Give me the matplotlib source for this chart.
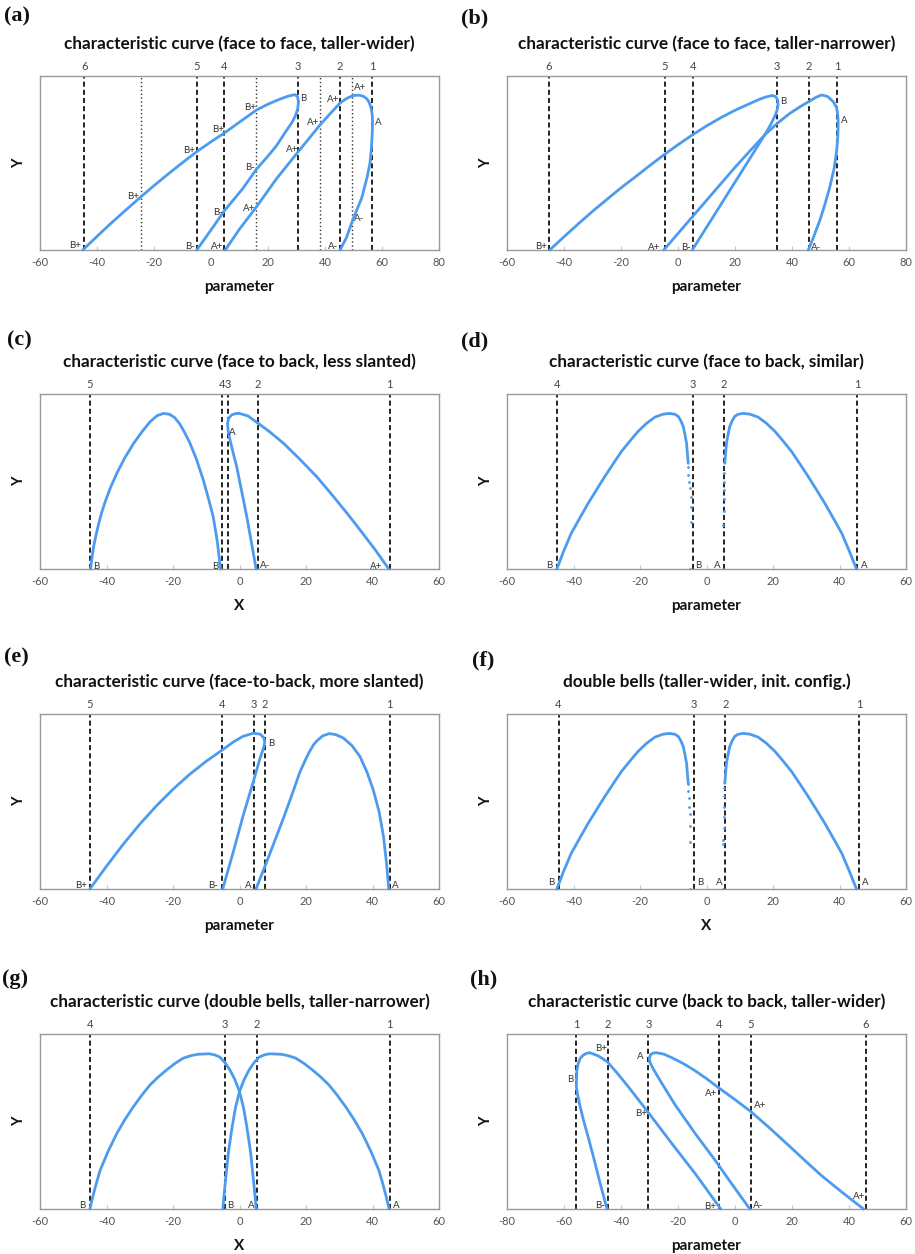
import matplotlib
matplotlib.use("Agg")
import matplotlib.pyplot as plt
from matplotlib.transforms import blended_transform_factory

plt.rcParams["axes.unicode_minus"] = False

# ---------------- data ----------------
# (a) face to face, taller-wider
a_title = "characteristic curve (face to face, taller-wider)"
a_xlabel = "parameter"
a_xlim = (-60, 80)
a_dash_x = [56.6, 45.3, 30.5, 4.7, -5.0, -44.5]
a_dash_lbl = ["1", "2", "3", "4", "5", "6"]
a_dot_x = [-24.7, 15.9, 38.4, 49.6]
a_c1_x = [-45, -40, -35, -30, -25, -20, -15, -10, -5, 0, 5, 10, 16, 20, 24, 27, 29.5,
          30.4, 30.7, 30.4, 29.6, 28.3, 26, 23, 20, 16, 11, 6.7, 4.7, 0, -5]
a_c1_y = [0, 0.078, 0.155, 0.228, 0.30, 0.37, 0.437, 0.502, 0.565, 0.622, 0.676, 0.735, 0.805, 0.838, 0.866, 0.884, 0.893,
          0.88, 0.85, 0.81, 0.77, 0.73, 0.675, 0.60, 0.54, 0.465, 0.35, 0.265, 0.226, 0.115, 0]
a_c2_x = [5, 10, 16, 23, 30.6, 34.5, 38.2, 42, 45.3, 47.3, 49, 50.2, 51.5, 52.8, 53.8, 54.8, 55.6, 56.2, 56.55,
          56.7, 56.6, 56.3, 55.8, 54.8, 52.9, 49.9, 47.5, 45.3]
a_c2_y = [0, 0.12, 0.249, 0.41, 0.565, 0.643, 0.718, 0.787, 0.845, 0.868, 0.882, 0.888, 0.89, 0.887, 0.88, 0.867,
          0.845, 0.815, 0.78, 0.74, 0.68, 0.59, 0.50, 0.42, 0.30, 0.18, 0.07, 0]
a_lbl = ["B+", "B+", "B+", "B+", "B+", "B", "B-", "B-", "B-", "A+", "A+", "A+", "A+", "A+", "A+", "A", "A-", "A-"]
a_lbl_x = [-47.5, -27.5, -7.6, 2.4, 13.6, 32.4, 13.8, 2.4, -7.3, 2.2, 13.4, 28.4, 35.8, 42.9, 52.3, 58.8, 51.9, 42.7]
a_lbl_y = [0.023, 0.31, 0.571, 0.693, 0.818, 0.872, 0.475, 0.215, 0.019, 0.019, 0.239, 0.58, 0.732, 0.866, 0.933,
           0.734, 0.182, 0.019]

# (b) face to face, taller-narrower
b_title = "characteristic curve (face to face, taller-narrower)"
b_xlabel = "parameter"
b_xlim = (-60, 80)
b_dash_x = [55.9, 46.0, 34.6, 5.3, -4.6, -45.3]
b_dash_lbl = ["1", "2", "3", "4", "5", "6"]
b_c1_x = [-45, -40, -35, -30, -25, -20, -15, -10, -5, 0, 5, 10, 15, 20, 25, 28, 30.5, 33, 34.3, 35, 35.1,
          34.7, 34, 32.5, 30.4, 25, 20, 15, 10, 5]
b_c1_y = [0, 0.076, 0.15, 0.222, 0.29, 0.357, 0.42, 0.484, 0.546, 0.605, 0.661, 0.713, 0.76, 0.803, 0.84, 0.862,
          0.878, 0.888, 0.882, 0.86, 0.83, 0.80, 0.77, 0.72, 0.661, 0.52, 0.39, 0.26, 0.13, 0]
b_c2_x = [-5, 0, 5, 10, 15, 20, 25, 30.4, 35, 39.3, 43, 46.1, 48.5, 50.4, 52.5, 54.5, 55.6, 56.0, 56.2, 56.1,
          55.7, 54.8, 53.3, 51.6, 49.8, 47.7, 45.7]
b_c2_y = [0, 0.095, 0.19, 0.285, 0.38, 0.475, 0.565, 0.661, 0.73, 0.786, 0.825, 0.855, 0.878, 0.891, 0.882, 0.852,
          0.82, 0.786, 0.737, 0.66, 0.575, 0.47, 0.364, 0.265, 0.172, 0.08, 0]
b_lbl = ["B+", "A+", "B-", "B", "A", "A-"]
b_lbl_x = [-48.2, -8.2, 2.8, 37.0, 58.5, 48.6]
b_lbl_y = [0.019, 0.015, 0.015, 0.856, 0.743, 0.015]

# (c) face to back, less slanted
c_title = "characteristic curve (face to back, less slanted)"
c_xlabel = "X"
c_xlim = (-60, 60)
c_dash_x = [45.2, 5.5, -3.5, -5.3, -45.0]
c_dash_lbl = ["1", "2", "3", "4", "5"]
c_c1_x = [-44.8, -44.4, -43.9, -43.2, -42.4, -41.5, -40.3, -38.8, -36.9, -34.5, -31.8, -29.3, -26.8, -24.8, -22.9,
          -21, -19.5, -18, -16.5, -14.9, -13, -10.9, -9.3, -7.9, -6.7, -5.7]
c_c1_y = [0, 0.06, 0.125, 0.19, 0.255, 0.32, 0.39, 0.465, 0.547, 0.635, 0.719, 0.785, 0.843, 0.876, 0.889,
          0.884, 0.865, 0.83, 0.78, 0.719, 0.63, 0.509, 0.40, 0.298, 0.16, 0]
c_c2_x = [5, 3.6, 2.2, 0.7, -0.85, -2.0, -2.85, -3.4, -3.6, -3.3, -2.4, -1.2, 0, 2.5, 5.5, 9, 13.2, 18, 23.2, 28,
          33.2, 37, 41, 44.9]
c_c2_y = [0, 0.15, 0.298, 0.44, 0.585, 0.67, 0.738, 0.79, 0.83, 0.86, 0.88, 0.888, 0.889, 0.875, 0.834, 0.785,
          0.719, 0.63, 0.528, 0.42, 0.298, 0.205, 0.105, 0]
c_lbl = ["B", "B", "A", "A-", "A+"]
c_lbl_x = [-43.0, -7.3, -2.1, 7.7, 41.2]
c_lbl_y = [0.017, 0.017, 0.782, 0.021, 0.017]

# (d) face to back, similar
d_title = "characteristic curve (face to back, similar)"
d_xlabel = "parameter"
d_xlim = (-60, 60)
d_dash_x = [45.3, 5.3, -4.2, -45.0]
d_dash_lbl = ["1", "2", "3", "4"]
d_c1_x = [-45, -43, -40.7, -38, -35.6, -33, -30.6, -28, -25.6, -23, -20.6, -18, -15.5, -13, -11, -9.5, -8.5,
          -7.8, -7, -6.5, -6, -5.5]
d_c1_y = [0, 0.10, 0.203, 0.295, 0.375, 0.455, 0.528, 0.603, 0.671, 0.732, 0.786, 0.833, 0.868, 0.885, 0.889,
          0.884, 0.872, 0.85, 0.815, 0.77, 0.719, 0.604]
d_c2_x = [45.1, 43, 40.7, 38, 35.6, 33, 30.6, 28, 25.6, 23, 20.6, 18, 15.5, 13, 11, 9.5, 8.5, 7.8, 7, 6.5, 6, 5.5]
d_c2_y = [0, 0.10, 0.203, 0.295, 0.375, 0.455, 0.528, 0.603, 0.671, 0.732, 0.786, 0.833, 0.868, 0.885, 0.889,
          0.884, 0.872, 0.85, 0.815, 0.77, 0.719, 0.604]
d_dots_x = [-5.5, -5.5, -5.3, -5.0, -4.8, -4.7, -4.8, -5.0, 5.4, 5.4, 5.3, 5.2, 5.2, 5.0, 5.0]
d_dots_y = [0.585, 0.537, 0.499, 0.461, 0.413, 0.356, 0.266, 0.0, 0.55, 0.50, 0.45, 0.40, 0.33, 0.25, 0.0]
d_lbl = ["B", "B", "A", "A"]
d_lbl_x = [-47.2, -2.5, 3.3, 47.5]
d_lbl_y = [0.021, 0.021, 0.021, 0.021]

# (e) face-to-back, more slanted
e_title = "characteristic curve (face-to-back, more slanted)"
e_xlabel = "parameter"
e_xlim = (-60, 60)
e_dash_x = [45.2, 7.7, 4.4, -5.3, -45.0]
e_dash_lbl = ["1", "2", "3", "4", "5"]
e_c1_x = [-45, -40, -35, -30, -25, -20, -15, -10, -5.35, -1.86, 1, 4.15, 6.2, 7.3, 7.6, 7.3, 6.17, 4.15, 1.15,
          -1.86, -5.05]
e_c1_y = [0, 0.13, 0.255, 0.37, 0.475, 0.57, 0.655, 0.73, 0.792, 0.84, 0.872, 0.89, 0.885, 0.865, 0.84, 0.81,
          0.747, 0.613, 0.423, 0.213, 0]
e_c2_x = [4.96, 8.2, 13.2, 15.8, 18.2, 20, 21.2, 22.3, 23.2, 25, 27, 29, 31.2, 33.8, 36.2, 38.3, 40.2, 42, 43.3,
          44.2, 44.9]
e_c2_y = [0, 0.156, 0.404, 0.54, 0.67, 0.745, 0.79, 0.825, 0.845, 0.875, 0.888, 0.882, 0.863, 0.82, 0.758, 0.67,
          0.568, 0.44, 0.30, 0.15, 0]
e_lbl = ["B", "B+", "B-", "A", "A"]
e_lbl_x = [9.4, -47.5, -7.9, 2.7, 46.8]
e_lbl_y = [0.83, 0.019, 0.019, 0.019, 0.019]

# (f) double bells, taller-wider, init. config.
f_title = "double bells (taller-wider, init. config.)"
f_xlabel = "X"
f_xlim = (-60, 60)
f_dash_x = [45.9, 5.7, -3.9, -44.5]
f_dash_lbl = ["1", "2", "3", "4"]
f_c1_x = [-45, -43, -40.7, -38, -35.6, -33, -30.6, -28, -25.6, -23, -20.6, -18, -15.5, -13, -11, -9.5, -8.5,
          -7.8, -7, -6.5, -6, -5.5]
f_c1_y = [0, 0.10, 0.203, 0.295, 0.375, 0.455, 0.528, 0.603, 0.671, 0.732, 0.786, 0.833, 0.868, 0.885, 0.889,
          0.884, 0.872, 0.85, 0.815, 0.77, 0.719, 0.604]
f_c2_x = [45.1, 43, 40.7, 38, 35.6, 33, 30.6, 28, 25.6, 23, 20.6, 18, 15.5, 13, 11, 9.5, 8.5, 7.8, 7, 6.5, 6, 5.5]
f_c2_y = [0, 0.10, 0.203, 0.295, 0.375, 0.455, 0.528, 0.603, 0.671, 0.732, 0.786, 0.833, 0.868, 0.885, 0.889,
          0.884, 0.872, 0.85, 0.815, 0.77, 0.719, 0.604]
f_dots_x = [-5.5, -5.5, -5.4, -5.2, -5.1, -5.0, -4.9, -4.9, 5.4, 5.4, 5.3, 5.2, 5.2, 5.0, 4.9, 4.9]
f_dots_y = [0.60, 0.56, 0.52, 0.47, 0.43, 0.36, 0.27, 0.0, 0.58, 0.53, 0.47, 0.41, 0.35, 0.28, 0.26, 0.0]
f_lbl = ["B", "B", "A", "A"]
f_lbl_x = [-46.7, -2.0, 3.7, 47.9]
f_lbl_y = [0.038, 0.038, 0.038, 0.038]

# (g) double bells, taller-narrower
g_title = "characteristic curve (double bells, taller-narrower)"
g_xlabel = "X"
g_xlim = (-60, 60)
g_dash_x = [45.2, 5.3, -4.3, -45.0]
g_dash_lbl = ["1", "2", "3", "4"]
g_c1_x = [-45, -44, -43, -41.9, -39.5, -36.9, -34.4, -31.9, -29.4, -26.9, -24.4, -21.9, -19.4, -16.9, -14.5,
          -12.5, -9.1, -7.5, -5.9, -4.4, -2.9, -1.4, 0, 1.2, 2.2, 3.3, 4.2, 4.65, 5.0]
g_c1_y = [0, 0.08, 0.15, 0.222, 0.33, 0.432, 0.513, 0.585, 0.65, 0.709, 0.755, 0.795, 0.832, 0.862, 0.877,
          0.884, 0.887, 0.881, 0.868, 0.837, 0.795, 0.74, 0.671, 0.58, 0.47, 0.33, 0.164, 0.08, 0]
g_c2_x = [45, 44, 43, 41.9, 39.5, 36.9, 34.4, 31.9, 29.4, 26.9, 24.4, 21.9, 19.4, 16.9, 14.5,
          12.5, 9.1, 7.5, 5.9, 4.4, 2.9, 1.4, 0, -1.2, -2.2, -3.3, -4.2, -4.65, -5.0]
g_c2_y = [0, 0.08, 0.15, 0.222, 0.33, 0.432, 0.513, 0.585, 0.65, 0.709, 0.755, 0.795, 0.832, 0.862, 0.877,
          0.884, 0.887, 0.881, 0.868, 0.837, 0.795, 0.74, 0.671, 0.58, 0.47, 0.33, 0.164, 0.08, 0]
g_lbl = ["B", "B", "A", "A"]
g_lbl_x = [-47.3, -2.7, 3.4, 47.3]
g_lbl_y = [0.021, 0.021, 0.021, 0.021]

# (h) back to back, taller-wider
h_title = "characteristic curve (back to back, taller-wider)"
h_xlabel = "parameter"
h_xlim = (-80, 60)
h_dash_x = [-55.7, -44.7, -30.4, -5.5, 5.6, 45.9]
h_dash_lbl = ["1", "2", "3", "4", "5", "6"]
h_c1_x = [-44.9, -47.4, -49.7, -51.5, -53.2, -54.4, -55.3, -55.65, -55.6, -55.5, -55.0, -54.3, -53.2, -52,
          -50.9, -48, -46.5, -44.7, -41, -37.5, -30.4, -22.2, -14, -5.0]
h_c1_y = [0, 0.152, 0.30, 0.41, 0.51, 0.59, 0.66, 0.70, 0.74, 0.79, 0.832, 0.862, 0.88, 0.89,
          0.893, 0.875, 0.86, 0.84, 0.77, 0.70, 0.551, 0.375, 0.203, 0]
h_c2_x = [5.2, -1.2, -7, -14, -21, -25.7, -28.3, -29.8, -30.1, -29.6, -28.8, -27.5, -25, -22.2, -18, -14, -10,
          -5.5, 0, 5.6, 12, 18.7, 25, 30.4, 38, 45.1]
h_c2_y = [0, 0.145, 0.279, 0.432, 0.595, 0.719, 0.79, 0.835, 0.862, 0.882, 0.891, 0.893, 0.885, 0.865, 0.83,
          0.79, 0.745, 0.69, 0.625, 0.556, 0.465, 0.365, 0.27, 0.19, 0.09, 0]
h_lbl = ["B+", "A", "B", "A+", "A+", "B+", "B-", "B+", "A-", "A+"]
h_lbl_x = [-46.8, -33.1, -57.8, -8.2, 8.9, -32.8, -47.4, -8.8, 8.2, 43.5]
h_lbl_y = [0.916, 0.872, 0.738, 0.658, 0.591, 0.547, 0.021, 0.015, 0.021, 0.073]

# ---------------- layout / style ----------------
W, H = 915, 1254
fig = plt.figure(figsize=(W / 100, H / 100), dpi=100)
BLUE = "#4d9bef"
SANS = ["Lato", "DejaVu Sans"]

LEFT = (40, 439)
RIGHT = (507, 906)
ROWS = [(76, 250), (394, 569), (714, 889), (1034, 1209)]


def fx(px):
    return px / W


def fy(py):
    return 1 - py / H


def panel(letter, letter_xy, cols, row, title, xlabel, xlim, dash_x, dash_lbl,
          curves, lbl, lbl_x, lbl_y, dot_x=None, dots=None):
    x0, x1 = cols
    y0, y1 = row
    ax = fig.add_axes([fx(x0), fy(y1), (x1 - x0) / W, (y1 - y0) / H])
    ax.set_xlim(*xlim)
    ax.set_ylim(0, 1)
    ax.set_xticks(list(range(xlim[0], xlim[1] + 1, 20)))
    ax.tick_params(axis="x", direction="in", length=3, width=0.8, color="#c8c8c8",
                   labelsize=8, labelcolor="#555555", pad=5)
    for t in ax.get_xticklabels():
        t.set_family(SANS)
    ax.set_yticks([])
    for s in ax.spines.values():
        s.set_color("#9a9a9a")
        s.set_linewidth(1.0)
    tr = blended_transform_factory(ax.transData, ax.transAxes)
    for xv, lb in zip(dash_x, dash_lbl):
        ax.axvline(xv, color="#222222", lw=1.4, ls=(0, (2.6, 1.6)), zorder=1)
        ax.text(xv, 1 + 10 / 175, lb, transform=tr, ha="center", va="center",
                fontsize=8, color="#444444", family=SANS)
    if dot_x is not None:
        for xv in dot_x:
            ax.axvline(xv, color="#333333", lw=1.0, ls=(0, (1, 1.8)), zorder=1)
    for cx, cy in curves:
        ax.plot(cx, cy, color=BLUE, lw=2.0, solid_joinstyle="round",
                solid_capstyle="round", zorder=3, clip_on=False)
    if dots is not None:
        ax.plot(dots[0], dots[1], ls="none", marker="o", ms=2.0, color=BLUE,
                mec="none", zorder=3)
    for t, xv, yv in zip(lbl, lbl_x, lbl_y):
        ax.text(xv, yv, t, ha="center", va="center", fontsize=7, color="#333333",
                family=SANS, zorder=4)
    fig.text(fx((x0 + x1) / 2), fy(y0 - 32), title, ha="center", va="center",
             fontsize=12.3, fontweight="bold", family=SANS, color="#111111")
    fig.text(fx((x0 + x1) / 2), fy(y1 + 37), xlabel, ha="center", va="center",
             fontsize=11, fontweight="bold", family=SANS, color="#111111")
    fig.text(fx(x0 - 21), fy((y0 + y1) / 2), "Y", ha="center", va="center",
             rotation=90, fontsize=10.5, fontweight="bold", family=SANS, color="#111111")
    fig.text(fx(letter_xy[0]), fy(letter_xy[1]), letter, ha="left", va="center",
             fontsize=16, fontweight="bold", family=["Liberation Serif", "DejaVu Serif"],
             color="#111111")
    return ax


panel("(a)", (4, 16), LEFT, ROWS[0], a_title, a_xlabel, a_xlim, a_dash_x, a_dash_lbl,
      [(a_c1_x, a_c1_y), (a_c2_x, a_c2_y)], a_lbl, a_lbl_x, a_lbl_y, dot_x=a_dot_x)
panel("(b)", (461, 18), RIGHT, ROWS[0], b_title, b_xlabel, b_xlim, b_dash_x, b_dash_lbl,
      [(b_c1_x, b_c1_y), (b_c2_x, b_c2_y)], b_lbl, b_lbl_x, b_lbl_y)
panel("(c)", (7, 340), LEFT, ROWS[1], c_title, c_xlabel, c_xlim, c_dash_x, c_dash_lbl,
      [(c_c1_x, c_c1_y), (c_c2_x, c_c2_y)], c_lbl, c_lbl_x, c_lbl_y)
panel("(d)", (461, 341), RIGHT, ROWS[1], d_title, d_xlabel, d_xlim, d_dash_x, d_dash_lbl,
      [(d_c1_x, d_c1_y), (d_c2_x, d_c2_y)], d_lbl, d_lbl_x, d_lbl_y,
      dots=(d_dots_x, d_dots_y))
panel("(e)", (4, 657), LEFT, ROWS[2], e_title, e_xlabel, e_xlim, e_dash_x, e_dash_lbl,
      [(e_c1_x, e_c1_y), (e_c2_x, e_c2_y)], e_lbl, e_lbl_x, e_lbl_y)
panel("(f)", (472, 660), RIGHT, ROWS[2], f_title, f_xlabel, f_xlim, f_dash_x, f_dash_lbl,
      [(f_c1_x, f_c1_y), (f_c2_x, f_c2_y)], f_lbl, f_lbl_x, f_lbl_y,
      dots=(f_dots_x, f_dots_y))
panel("(g)", (2, 979), LEFT, ROWS[3], g_title, g_xlabel, g_xlim, g_dash_x, g_dash_lbl,
      [(g_c1_x, g_c1_y), (g_c2_x, g_c2_y)], g_lbl, g_lbl_x, g_lbl_y)
panel("(h)", (470, 979), RIGHT, ROWS[3], h_title, h_xlabel, h_xlim, h_dash_x, h_dash_lbl,
      [(h_c1_x, h_c1_y), (h_c2_x, h_c2_y)], h_lbl, h_lbl_x, h_lbl_y)

fig.savefig("out.png", dpi=100, facecolor="white")
